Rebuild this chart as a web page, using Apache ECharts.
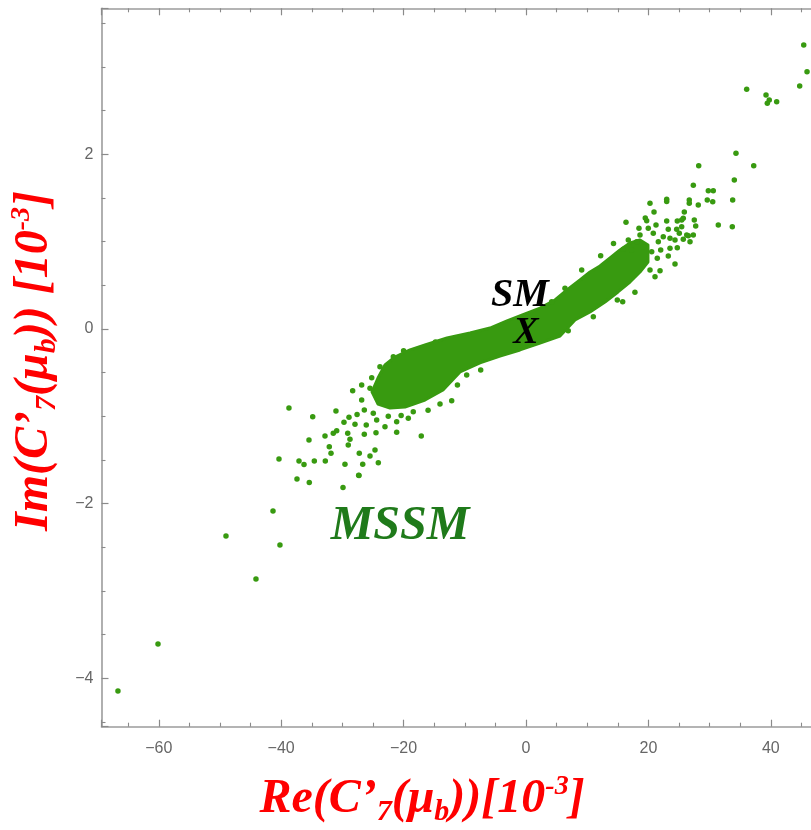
<!DOCTYPE html>
<html>
<head>
<meta charset="utf-8">
<script src="https://cdn.jsdelivr.net/npm/echarts@6/dist/echarts.min.js"></script>
<style>
  html, body { margin: 0; padding: 0; background: #ffffff; }
  #chart { width: 811px; height: 830px; }
</style>
</head>
<body>
<div id="chart"></div>
<script>
// Axis extents and tick spacing (units of 10^-3)
const reRange = [-69.36, 50];
const imRange = [-4.554, 3.672];
const reTickStep = 20;
const imTickStep = 2;

// Outline of the saturated part of the MSSM scan (Re, Im)
const denseCore = [
  [-25.16, -0.721], [-24.18, -0.561], [-23.04, -0.412], [-21.41, -0.321], [-18.95, -0.240],
  [-16.50, -0.183], [-12.91, -0.103], [-9.15, -0.046], [-5.88, 0.011], [-3.10, 0.092],
  [-0.16, 0.172], [2.29, 0.240], [4.74, 0.332], [6.70, 0.447], [8.82, 0.561],
  [10.46, 0.653], [12.09, 0.721], [13.73, 0.813], [15.36, 0.905], [16.99, 0.985],
  [18.63, 1.019], [19.93, 0.962],
  [19.93, 0.767], [18.63, 0.653], [16.99, 0.538], [15.03, 0.424], [12.91, 0.309],
  [10.46, 0.195], [8.01, 0.103], [5.56, -0.080], [2.29, -0.160], [-0.98, -0.240],
  [-4.25, -0.309], [-7.52, -0.389], [-10.78, -0.492], [-13.56, -0.698], [-16.50, -0.813],
  [-19.77, -0.893], [-22.22, -0.905], [-24.18, -0.859]
];

// Individual scan points on the negative-Re side
const lowerTail = [
  [-66.67, -4.145], [-60.13, -3.607], [-49.02, -2.370], [-44.12, -2.863], [-41.34, -2.084],
  [-40.20, -2.473], [-38.73, -0.905], [-34.85, -1.004], [-31.05, -0.939], [-35.46, -1.271],
  [-40.36, -1.489], [-37.09, -1.511], [-36.27, -1.552], [-34.59, -1.511], [-32.79, -1.511],
  [-37.42, -1.718], [-35.41, -1.758], [-29.90, -1.815], [-29.58, -1.549], [-27.29, -1.678],
  [-26.68, -1.549], [-32.84, -1.225], [-31.49, -1.194], [-30.93, -1.165], [-32.14, -1.348],
  [-31.86, -1.423], [-29.13, -1.194], [-28.76, -1.263], [-29.04, -1.328], [-29.74, -1.068],
  [-28.92, -1.011], [-27.94, -1.091], [-27.24, -1.423], [-25.49, -1.454], [-24.67, -1.386],
  [-24.13, -1.531], [-27.34, -1.675], [-26.42, -1.206], [-24.51, -1.187], [-21.13, -1.183],
  [-17.11, -1.225], [-28.32, -0.707], [-26.85, -0.641], [-25.21, -0.558], [-23.86, -0.432],
  [-21.68, -0.317], [-25.49, -0.679], [-26.85, -0.813], [-26.42, -0.928], [-24.95, -0.965],
  [-24.40, -1.042], [-23.04, -1.119], [-21.13, -1.061], [-19.23, -1.023], [-18.42, -0.947],
  [-14.05, -0.859], [-12.14, -0.821], [-9.69, -0.527],
  [-27.60, -0.980], [-26.10, -1.100], [-22.50, -1.000], [-20.40, -0.990], [-16.00, -0.930],
  [-11.20, -0.640], [-7.40, -0.470], [-20.00, -0.250], [-14.80, -0.150]
];

// Individual scan points on the positive-Re side
const upperTail = [
  [45.38, 3.252], [45.92, 2.946], [44.72, 2.783], [36.06, 2.745], [39.22, 2.679],
  [39.75, 2.622], [40.96, 2.603], [39.43, 2.584], [34.31, 2.012], [28.22, 1.870],
  [37.21, 1.870], [34.04, 1.706], [33.77, 1.477], [33.71, 1.171], [31.42, 1.191],
  [27.34, 1.645], [29.79, 1.584], [30.60, 1.584], [29.62, 1.477], [30.51, 1.458],
  [28.15, 1.420], [26.68, 1.477], [26.68, 1.439], [25.87, 1.340], [27.50, 1.248],
  [27.73, 1.179], [25.70, 1.268], [24.72, 1.237], [22.99, 1.485], [22.99, 1.460],
  [20.26, 1.439], [20.92, 1.340], [19.49, 1.271], [16.34, 1.222], [18.46, 1.153],
  [19.72, 1.240], [21.24, 1.191], [22.99, 1.237], [23.25, 1.142], [24.62, 1.142],
  [25.05, 1.096], [26.26, 1.076], [27.34, 1.076], [26.80, 1.000], [25.70, 1.027],
  [24.35, 1.019], [24.72, 0.931], [23.53, 0.924], [22.43, 1.057], [21.62, 1.000],
  [20.80, 1.096], [19.98, 1.153], [18.63, 1.076], [18.09, 1.000], [16.72, 1.019],
  [15.90, 0.913], [17.27, 0.905], [19.17, 0.942], [20.54, 0.885], [22.01, 0.905],
  [21.45, 0.810], [23.25, 0.836], [24.35, 0.744], [21.90, 0.668], [21.08, 0.599],
  [20.26, 0.676], [15.80, 0.313], [14.92, 0.332], [9.10, 0.676], [6.37, 0.466],
  [4.20, 0.313], [23.53, 1.039], [26.52, 1.068], [25.44, 1.248], [25.44, 1.171],
  [14.30, 0.980], [12.20, 0.840], [17.80, 0.420], [11.00, 0.140], [6.90, -0.020]
];

// Standard Model value
const smPoint = [0, 0];

const pointGreen = '#389a10';
const frameGrey = '#9c9c9c';
const tickGrey = '#8a8a8a';
const labelGrey = '#666666';
const serif = '"Liberation Serif", "DejaVu Serif", serif';

function tickFormatter(step) {
  return function (v) {
    const k = v / step;
    if (Math.abs(k - Math.round(k)) > 1e-6) return '';
    return String(Math.round(k) * step).replace('-', '\u2212');
  };
}

function makeAxis(range, step, position, showLabels) {
  return {
    type: 'value',
    position: position,
    min: range[0],
    max: range[1],
    minInterval: step,
    maxInterval: step,
    splitNumber: 5,
    axisLine: { show: true, onZero: false, lineStyle: { color: frameGrey, width: 1.6 } },
    axisTick: { show: true, inside: true, length: 7, lineStyle: { color: tickGrey, width: 1.2 } },
    minorTick: { show: true, splitNumber: 4, length: 4, lineStyle: { color: tickGrey, width: 1.1 } },
    splitLine: { show: false },
    minorSplitLine: { show: false },
    axisLabel: {
      show: showLabels,
      formatter: tickFormatter(step),
      color: labelGrey,
      fontSize: 16,
      fontFamily: '"Liberation Sans", Arial, sans-serif',
      margin: position === 'bottom' ? 14 : 8
    }
  };
}

const titleRich = {
  m: { fontSize: 48, fontFamily: serif, fontStyle: 'italic', fontWeight: 'bold', fill: '#ff0000', lineHeight: 54 },
  sub: { fontSize: 30, fontFamily: serif, fontStyle: 'italic', fontWeight: 'bold', fill: '#ff0000', lineHeight: 30, verticalAlign: 'bottom' },
  sup: { fontSize: 28, fontFamily: serif, fontStyle: 'italic', fontWeight: 'bold', fill: '#ff0000', lineHeight: 30, verticalAlign: 'top' }
};

const chart = echarts.init(document.getElementById('chart'), null, { renderer: 'canvas' });

chart.setOption({
  animation: false,
  backgroundColor: '#ffffff',
  // the plot frame runs past the right edge of the page
  grid: {
    left: 101.5, top: 8.3, width: 730.5, height: 718.4,
    containLabel: false, outerBoundsMode: 'none'
  },
  xAxis: [
    makeAxis(reRange, reTickStep, 'bottom', true),
    makeAxis(reRange, reTickStep, 'top', false)
  ],
  yAxis: [
    makeAxis(imRange, imTickStep, 'left', true),
    makeAxis(imRange, imTickStep, 'right', false)
  ],
  series: [
    {
      name: 'MSSM core',
      type: 'custom',
      coordinateSystem: 'cartesian2d',
      silent: true,
      z: 2,
      data: [smPoint],
      renderItem: function (params, api) {
        return {
          type: 'polygon',
          shape: { points: denseCore.map(function (p) { return api.coord(p); }) },
          style: { fill: pointGreen, stroke: pointGreen, lineWidth: 3, lineJoin: 'round' }
        };
      }
    },
    {
      name: 'MSSM',
      type: 'scatter',
      z: 3,
      symbol: 'circle',
      symbolSize: 5.5,
      itemStyle: { color: pointGreen, opacity: 1 },
      data: lowerTail.concat(upperTail)
    }
  ]
});

// Annotations: axis titles, MSSM tag and the SM marker
const smPx = chart.convertToPixel({ gridIndex: 0 }, smPoint);
chart.setOption({
  graphic: [
    {
      type: 'text',
      z: 100,
      x: 422, y: 800,
      style: {
        text: '{m|Re(C\u2019}{sub|7}{m|(\u03bc}{sub|b}{m|))[10}{sup|-3}{m|]}',
        rich: titleRich,
        align: 'center', verticalAlign: 'middle'
      }
    },
    {
      type: 'text',
      z: 100,
      x: 35, y: 361,
      rotation: Math.PI / 2,
      style: {
        text: '{m|Im(C\u2019}{sub|7}{m|(\u03bc}{sub|b}{m|)) [10}{sup|-3}{m|]}',
        rich: titleRich,
        align: 'center', verticalAlign: 'middle'
      }
    },
    {
      type: 'text',
      z: 100,
      x: 400, y: 527,
      style: {
        text: 'MSSM',
        font: 'italic bold 48px ' + serif,
        fill: '#1f7a1a',
        align: 'center', verticalAlign: 'middle'
      }
    },
    {
      type: 'text',
      z: 100,
      x: smPx[0], y: smPx[1] + 4,
      style: {
        text: 'X',
        font: 'italic bold 38px ' + serif,
        fill: '#000000',
        align: 'center', verticalAlign: 'middle'
      }
    },
    {
      type: 'text',
      z: 100,
      x: smPx[0] - 6, y: smPx[1] - 33,
      style: {
        text: 'SM',
        font: 'italic bold 40px ' + serif,
        fill: '#000000',
        align: 'center', verticalAlign: 'middle'
      }
    }
  ]
});
</script>
</body>
</html>
